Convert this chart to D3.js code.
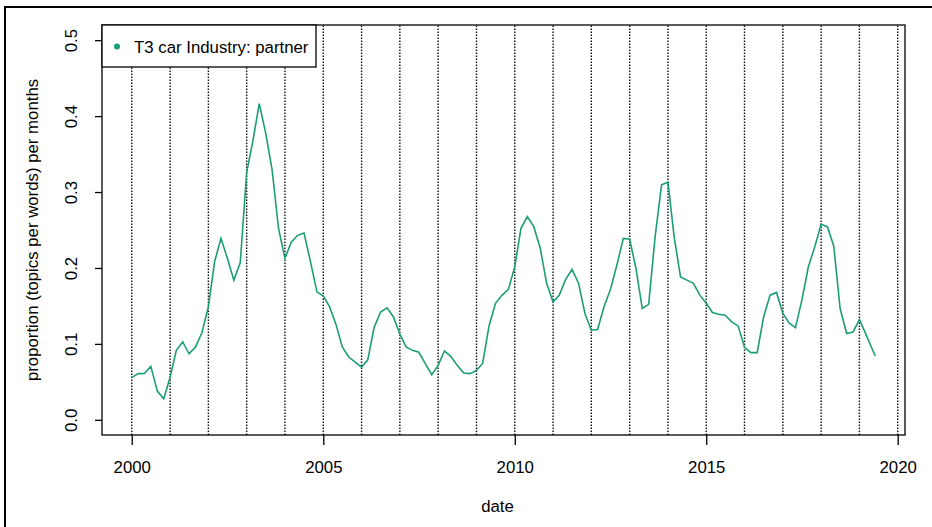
<!DOCTYPE html>
<html>
<head>
<meta charset="utf-8">
<script src="https://cdn.jsdelivr.net/npm/d3@7"></script>
<style>
  html, body { margin: 0; padding: 0; background: #fff; }
  svg { display: block; }
  text { font-family: "Liberation Sans", Arial, sans-serif; fill: #000; }
</style>
</head>
<body>
<svg id="chart" width="932" height="527"></svg>
<script>
// ---- data ----
const seriesName = "T3 car Industry: partner";
// bimonthly values (Jan, Mar, May, Jul, Sep, Nov) from 2000, last point June 2019
const values2000 = [0.0555, 0.0608, 0.061, 0.0704, 0.0378, 0.0277];
const values2001 = [0.056, 0.0915, 0.1025, 0.087, 0.096, 0.115];
const values2002 = [0.149, 0.208, 0.239, 0.2127, 0.184, 0.207];
const values2003 = [0.326, 0.367, 0.4165, 0.378, 0.329, 0.252];
const values2004 = [0.2127, 0.234, 0.243, 0.246, 0.208, 0.1686];
const values2005 = [0.163, 0.149, 0.126, 0.096, 0.0827, 0.076];
const values2006 = [0.0695, 0.079, 0.1218, 0.142, 0.1475, 0.1355];
const values2007 = [0.113, 0.096, 0.0915, 0.089, 0.074, 0.0594];
const values2008 = [0.0717, 0.0906, 0.0836, 0.0717, 0.0616, 0.0608];
const values2009 = [0.065, 0.0745, 0.124, 0.1535, 0.164, 0.1718];
const values2010 = [0.2016, 0.2523, 0.2676, 0.2544, 0.2259, 0.1797];
const values2011 = [0.1553, 0.164, 0.185, 0.198, 0.180, 0.14];
const values2012 = [0.118, 0.1189, 0.1488, 0.1717, 0.2038, 0.239];
const values2013 = [0.2378, 0.2, 0.1466, 0.152, 0.242, 0.3095];
const values2014 = [0.313, 0.241, 0.188, 0.184, 0.1797, 0.1642];
const values2015 = [0.1535, 0.1413, 0.139, 0.1378, 0.129, 0.1237];
const values2016 = [0.0955, 0.0885, 0.0885, 0.1355, 0.1642, 0.1678];
const values2017 = [0.14, 0.1276, 0.1215, 0.1576, 0.2016, 0.228];
const values2018 = [0.2576, 0.2544, 0.2289, 0.1466, 0.1136, 0.1157];
const values2019 = [0.132, 0.1136, 0.094, 0.084];
const values2019Months = [0, 2, 4, 5]; // Jan, Mar, May, Jun

const xTickLabels = ["2000", "2005", "2010", "2015", "2020"];
const yTickValues = [0.0, 0.1, 0.2, 0.3, 0.4, 0.5];
const yTickLabels = ["0.0", "0.1", "0.2", "0.3", "0.4", "0.5"];
const gridYears = d3.range(2000, 2021);
const xTitle = "date";
const yTitle = "proportion (topics per words) per months";

// ---- build the series ----
const byYear = [values2000, values2001, values2002, values2003, values2004, values2005,
  values2006, values2007, values2008, values2009, values2010, values2011, values2012,
  values2013, values2014, values2015, values2016, values2017, values2018];
const data = [];
byYear.forEach((arr, yi) => arr.forEach((v, mi) => data.push({ date: new Date(2000 + yi, mi * 2, 1), value: v })));
values2019.forEach((v, i) => data.push({ date: new Date(2019, values2019Months[i], 1), value: v }));

// ---- layout ----
const svg = d3.select("#chart");
const plot = { left: 102, right: 905, top: 25, bottom: 435 };
const color = "#1b9e77";
const fs = "16.8px";

const t0 = d3.min(data, d => +d.date), t1 = d3.max(data, d => +d.date);
const pad = (t1 - t0) * 0.04;
const x = d3.scaleTime().domain([new Date(t0 - pad), new Date(t1 + pad)]).range([plot.left, plot.right]);
const y = d3.scaleLinear().domain([-0.02, 0.52]).range([plot.bottom, plot.top]);

// outer frame (top & left edges visible)
svg.append("line").attr("x1", 5).attr("x2", 932).attr("y1", 7).attr("y2", 7)
  .attr("stroke", "#000").attr("stroke-width", 2);
svg.append("line").attr("x1", 5).attr("x2", 5).attr("y1", 6).attr("y2", 527)
  .attr("stroke", "#000").attr("stroke-width", 2);

// dotted year lines
svg.append("g").selectAll("line").data(gridYears).join("line")
  .attr("x1", d => x(new Date(d, 0, 1))).attr("x2", d => x(new Date(d, 0, 1)))
  .attr("y1", plot.bottom).attr("y2", plot.top)
  .attr("stroke", "#111").attr("stroke-width", 1.4).attr("stroke-dasharray", "1.5,1.5");

// series line
const line = d3.line().x(d => x(d.date)).y(d => y(d.value));
svg.append("path").datum(data).attr("d", line)
  .attr("fill", "none").attr("stroke", color).attr("stroke-width", 1.6).attr("stroke-linejoin", "miter");

// plot box
svg.append("rect").attr("x", plot.left).attr("y", plot.top)
  .attr("width", plot.right - plot.left).attr("height", plot.bottom - plot.top)
  .attr("fill", "none").attr("stroke", "#000").attr("stroke-width", 1.3);

// x axis
const xAxis = d3.axisBottom(x)
  .tickValues(xTickLabels.map(s => new Date(+s, 0, 1)))
  .tickFormat((d, i) => xTickLabels[i])
  .tickSize(10).tickPadding(16);
const gx = svg.append("g").attr("transform", `translate(0,${plot.bottom})`).call(xAxis);
gx.select(".domain").remove();
gx.selectAll(".tick line").attr("stroke", "#000").attr("stroke-width", 1.3);
gx.selectAll(".tick text").attr("font-size", fs).attr("dy", null).attr("y", 38.3)
  .attr("font-family", "Liberation Sans, Arial, sans-serif");

// y axis
const yAxis = d3.axisLeft(y).tickValues(yTickValues).tickFormat((d, i) => yTickLabels[i]).tickSize(7);
const gy = svg.append("g").attr("transform", `translate(${plot.left},0)`).call(yAxis);
gy.select(".domain").remove();
gy.selectAll(".tick line").attr("stroke", "#000").attr("stroke-width", 1.3);
gy.selectAll(".tick text").attr("font-size", fs)
  .attr("font-family", "Liberation Sans, Arial, sans-serif")
  .attr("x", null).attr("dy", null)
  .attr("text-anchor", "middle")
  .attr("transform", "translate(-25,0) rotate(-90)");

// axis titles
svg.append("text").attr("x", (plot.left + plot.right) / 2 - 6).attr("y", 512)
  .attr("text-anchor", "middle").attr("font-size", fs).text(xTitle);
svg.append("text").attr("transform", `translate(38,${(plot.top + plot.bottom) / 2}) rotate(-90)`)
  .attr("text-anchor", "middle").attr("font-size", fs).text(yTitle);

// legend
const lg = svg.append("g");
lg.append("rect").attr("x", plot.left).attr("y", plot.top).attr("width", 214).attr("height", 42)
  .attr("fill", "#fff").attr("stroke", "#000").attr("stroke-width", 1.3);
lg.append("circle").attr("cx", 117).attr("cy", 46.5).attr("r", 3).attr("fill", color);
lg.append("text").attr("x", 134).attr("y", 52.5).attr("font-size", fs).text(seriesName);
</script>
</body>
</html>
